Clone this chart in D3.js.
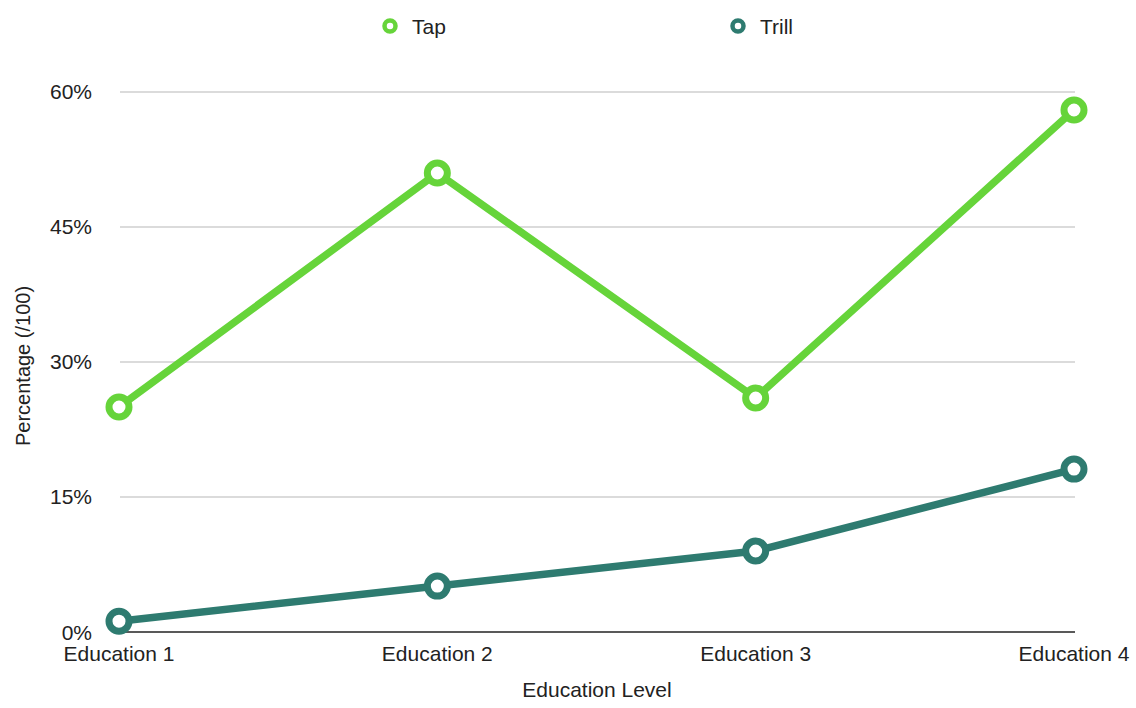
<!DOCTYPE html>
<html><head><meta charset="utf-8">
<script src="https://cdn.jsdelivr.net/npm/d3@7"></script>
<style>body{margin:0;background:#fff}svg text{font-family:"Liberation Sans",Arial,sans-serif;fill:#222}</style>
</head><body><svg id="c" width="1136" height="708"></svg>
<script>
const categories=["Education 1","Education 2","Education 3","Education 4"];
const tapValues=[25,51,26,58];
const trillValues=[1.2,5.1,9,18.1];
const yTicks=[0,15,30,45,60];
const seriesNames=["Tap","Trill"];
const seriesColors=["#66d43a","#2e7b70"];

const svg=d3.select("#c");
const x=d3.scalePoint().domain(categories).range([119,1074]);
const y=d3.scaleLinear().domain([0,60]).range([632,92]);
const fs=21;

svg.append("g").selectAll("line").data(yTicks.filter(d=>d>0)).join("line")
 .attr("x1",120).attr("x2",1075).attr("y1",d=>y(d)).attr("y2",d=>y(d))
 .attr("stroke","#b8b8b8").attr("stroke-width",1.2);
svg.append("line").attr("x1",120).attr("x2",1075).attr("y1",y(0)).attr("y2",y(0))
 .attr("stroke","#222").attr("stroke-width",1.5);

svg.append("g").selectAll("text").data(yTicks).join("text")
 .attr("x",92).attr("y",d=>y(d)+(d===0?1:0)).attr("dy","0.35em").attr("text-anchor","end")
 .attr("font-size",fs).text(d=>d+"%");
svg.append("g").selectAll("text").data(categories).join("text")
 .attr("x",d=>x(d)).attr("y",654).attr("dy","0.35em").attr("text-anchor","middle")
 .attr("font-size",fs).text(d=>d);
svg.append("text").attr("x",597).attr("y",690).attr("dy","0.35em").attr("text-anchor","middle")
 .attr("font-size",fs).text("Education Level");
svg.append("text").attr("transform","translate(23,366) rotate(-90)").attr("dy","0.35em")
 .attr("text-anchor","middle").attr("font-size",20).text("Percentage (/100)");

const data=[tapValues,trillValues];
const line=d3.line().x((d,i)=>x(categories[i])).y(d=>y(d));
data.forEach((vals,k)=>{
  svg.append("path").attr("d",line(vals)).attr("fill","none")
   .attr("stroke",seriesColors[k]).attr("stroke-width",7.5).attr("stroke-linejoin","round");
  svg.append("g").selectAll("circle").data(vals).join("circle")
   .attr("cx",(d,i)=>x(categories[i])).attr("cy",d=>y(d)).attr("r",10)
   .attr("fill","#fff").attr("stroke",seriesColors[k]).attr("stroke-width",7);
});

const legX=[390,738];
seriesNames.forEach((n,k)=>{
  svg.append("circle").attr("cx",legX[k]).attr("cy",26).attr("r",5.5)
   .attr("fill","#fff").attr("stroke",seriesColors[k]).attr("stroke-width",4.5);
  svg.append("text").attr("x",legX[k]+22).attr("y",27).attr("dy","0.35em")
   .attr("font-size",fs).text(n);
});
</script></body></html>
